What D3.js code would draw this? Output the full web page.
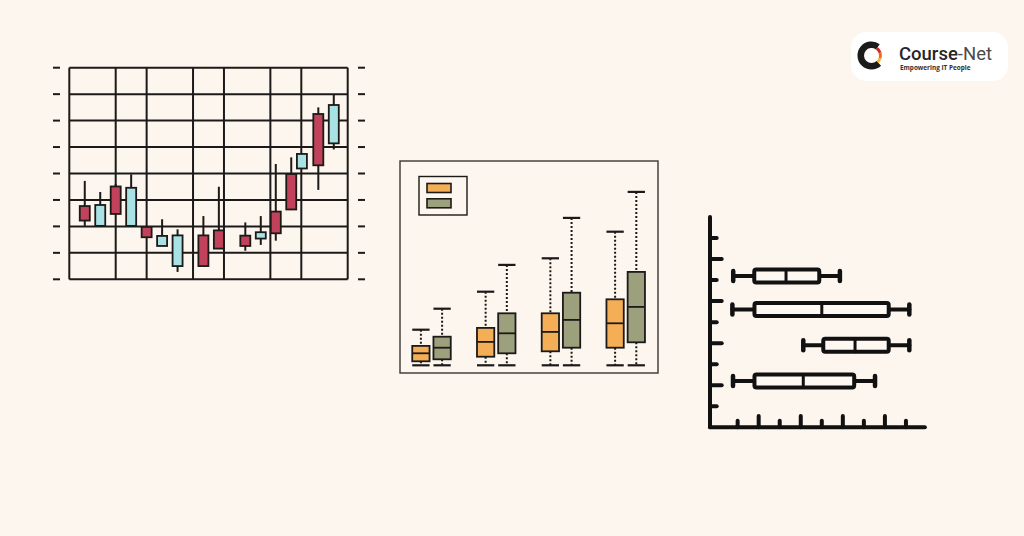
<!DOCTYPE html>
<html lang="en">
<head>
<meta charset="utf-8">
<script src="https://cdn.jsdelivr.net/npm/d3@7"></script>
<style>
  body { margin: 0; background: #fcf6ee; }
  svg { display: block; }
</style>
</head>
<body>
<div id="vis"></div>
<script>
// ---- candlestick data (price units 0..8) ----
var candleDays  = [0, 1, 2, 3, 4, 5, 6, 7.67, 8.67, 10.38, 11.38, 12.35, 13.35, 14.04, 15.1, 16.1];
var candleOpen  = [2.77, 2.02, 3.51, 2.02, 1.98, 1.26, 0.50, 1.66, 1.85, 1.65, 1.54, 2.56, 3.98, 4.19, 6.25, 5.14];
var candleClose = [2.22, 2.81, 2.47, 3.46, 1.59, 1.64, 1.66, 0.50, 1.16, 1.26, 1.78, 1.74, 2.64, 4.74, 4.31, 6.59];
var candleHigh  = [3.72, 3.30, 3.60, 3.97, 1.98, 2.27, 1.89, 2.39, 3.50, 2.15, 2.39, 4.36, 4.61, 4.74, 6.50, 6.99];
var candleLow   = [2.02, 2.02, 2.47, 2.02, 1.59, 1.26, 0.28, 0.50, 1.16, 1.08, 1.30, 1.46, 2.64, 4.19, 3.38, 4.91];
var gridDays    = [-1, 2, 4, 7, 9, 12, 14, 17];
var gridPrices  = [0, 1, 2, 3, 4, 5, 6, 7, 8];

// ---- grouped box plot data ----
var boxGroups = ["G1", "G2", "G3", "G4"];
var boxSeries = ["orange", "green"];
var orangeMin = [0, 0, 0, 0];
var orangeQ1  = [2, 4.3, 7, 8.8];
var orangeMed = [6, 11.7, 16.7, 21];
var orangeQ3  = [9.7, 18.7, 26, 33];
var orangeMax = [17.8, 36.8, 53.5, 66.8];
var greenMin  = [0, 0, 0, 0];
var greenQ1   = [3, 6, 8.8, 11.5];
var greenMed  = [8.8, 16, 22.7, 29.2];
var greenQ3   = [14.3, 26, 36.3, 46.7];
var greenMax  = [28.3, 50.2, 73.7, 86.7];

// ---- horizontal box plot data ----
var hRows = [7.2, 5.6, 3.9, 2.2];
var hMin  = [0.79, 0.75, 4.12, 0.78];
var hQ1   = [1.79, 1.8, 5.07, 1.8];
var hMed  = [3.3, 5.0, 6.58, 4.12];
var hQ3   = [4.88, 8.18, 8.18, 6.54];
var hMax  = [5.86, 9.16, 9.16, 7.53];
var hTicks = [1, 2, 3, 4, 5, 6, 7, 8, 9];

var ink = "#1c1a18";
var svg = d3.select("#vis").append("svg")
    .attr("width", 1024)
    .attr("height", 536);

svg.append("rect").attr("width", 1024).attr("height", 536).attr("fill", "#fcf6ee");

// =============== candlestick ===============
var cx = d3.scaleLinear().domain([-1, 17]).range([69.3, 347.7]);
var cy = d3.scaleLinear().domain([0, 8]).range([279.3, 67.7]);
var g1 = svg.append("g");

g1.selectAll(".hgrid").data(gridPrices).enter().append("line")
  .attr("x1", cx(-1)).attr("x2", cx(17))
  .attr("y1", d => cy(d)).attr("y2", d => cy(d))
  .attr("stroke", ink).attr("stroke-width", 2);
g1.selectAll(".vgrid").data(gridDays).enter().append("line")
  .attr("x1", d => cx(d)).attr("x2", d => cx(d))
  .attr("y1", cy(0)).attr("y2", cy(8))
  .attr("stroke", ink).attr("stroke-width", 2);
// outside tick dashes
g1.selectAll(".ltick").data(gridPrices).enter().append("line")
  .attr("x1", 53).attr("x2", 60)
  .attr("y1", d => cy(d)).attr("y2", d => cy(d))
  .attr("stroke", ink).attr("stroke-width", 2);
g1.selectAll(".rtick").data(gridPrices).enter().append("line")
  .attr("x1", 358).attr("x2", 365)
  .attr("y1", d => cy(d)).attr("y2", d => cy(d))
  .attr("stroke", ink).attr("stroke-width", 2);

var candles = candleDays.map(function(d, i) {
  return {day: d, open: candleOpen[i], close: candleClose[i], high: candleHigh[i], low: candleLow[i]};
});
var cg = g1.selectAll(".candle").data(candles).enter().append("g");
cg.append("line")
  .attr("x1", d => cx(d.day)).attr("x2", d => cx(d.day))
  .attr("y1", d => cy(d.high)).attr("y2", d => cy(d.low))
  .attr("stroke", ink).attr("stroke-width", 2);
cg.append("rect")
  .attr("x", d => cx(d.day) - 5)
  .attr("width", 10)
  .attr("y", d => cy(Math.max(d.open, d.close)))
  .attr("height", d => Math.abs(cy(d.open) - cy(d.close)))
  .attr("fill", d => d.close < d.open ? "#c2425b" : "#a8e2e5")
  .attr("stroke", ink).attr("stroke-width", 1.8);

// =============== grouped box plot ===============
var g2 = svg.append("g");
g2.append("rect").attr("x", 400).attr("y", 161).attr("width", 258).attr("height", 212)
  .attr("fill", "none").attr("stroke", "#3a3633").attr("stroke-width", 1.4);

var bx = d3.scalePoint().domain(boxGroups).range([431.5, 625.7]);
var bsub = d3.scalePoint().domain(boxSeries).range([-10.6, 10.6]);
var by = d3.scaleLinear().domain([0, 100]).range([365.3, 165.3]);
var boxColor = {orange: "#f4ae56", green: "#9da07c"};
var boxW = 17.3;

var boxes = [];
boxGroups.forEach(function(gname, i) {
  boxes.push({group: gname, s: "orange", min: orangeMin[i], q1: orangeQ1[i], med: orangeMed[i], q3: orangeQ3[i], max: orangeMax[i]});
  boxes.push({group: gname, s: "green", min: greenMin[i], q1: greenQ1[i], med: greenMed[i], q3: greenQ3[i], max: greenMax[i]});
});
var bg = g2.selectAll(".box").data(boxes).enter().append("g")
  .attr("transform", d => `translate(${bx(d.group) + bsub(d.s)},0)`);
bg.append("line").attr("x1", 0).attr("x2", 0)
  .attr("y1", d => by(d.max)).attr("y2", d => by(d.q3))
  .attr("stroke", ink).attr("stroke-width", 2).attr("stroke-dasharray", "2,2");
bg.append("line").attr("x1", 0).attr("x2", 0)
  .attr("y1", d => by(d.q1)).attr("y2", d => by(d.min))
  .attr("stroke", ink).attr("stroke-width", 2).attr("stroke-dasharray", "2,2");
bg.append("line").attr("x1", -boxW / 2).attr("x2", boxW / 2)
  .attr("y1", d => by(d.max)).attr("y2", d => by(d.max))
  .attr("stroke", ink).attr("stroke-width", 2.2);
bg.append("line").attr("x1", -boxW / 2).attr("x2", boxW / 2)
  .attr("y1", d => by(d.min)).attr("y2", d => by(d.min))
  .attr("stroke", ink).attr("stroke-width", 2.2);
bg.append("rect").attr("x", -boxW / 2).attr("width", boxW)
  .attr("y", d => by(d.q3)).attr("height", d => by(d.q1) - by(d.q3))
  .attr("fill", d => boxColor[d.s]).attr("stroke", ink).attr("stroke-width", 1.8);
bg.append("line").attr("x1", -boxW / 2).attr("x2", boxW / 2)
  .attr("y1", d => by(d.med)).attr("y2", d => by(d.med))
  .attr("stroke", ink).attr("stroke-width", 1.8);

// legend
g2.append("rect").attr("x", 419).attr("y", 176.5).attr("width", 48).attr("height", 38.5)
  .attr("fill", "none").attr("stroke", ink).attr("stroke-width", 1.4);
g2.selectAll(".leg").data(boxSeries).enter().append("rect")
  .attr("x", 427).attr("y", (d, i) => 183.5 + i * 15.3)
  .attr("width", 24).attr("height", 9)
  .attr("fill", d => boxColor[d]).attr("stroke", ink).attr("stroke-width", 1.6);

// =============== horizontal box plot ===============
var hx = d3.scaleLinear().domain([0, 10]).range([716.6, 927]);
var hy = d3.scaleLinear().domain([0, 10]).range([427.3, 217]);
var g3 = svg.append("g").attr("stroke", "#111").attr("stroke-linecap", "round");

g3.append("line").attr("x1", 710).attr("x2", 710).attr("y1", hy(10)).attr("y2", hy(0))
  .attr("stroke-width", 4);
g3.append("line").attr("x1", 710).attr("x2", hx(9.9)).attr("y1", hy(0)).attr("y2", hy(0))
  .attr("stroke-width", 4);
g3.selectAll(".xt").data(hTicks).enter().append("line")
  .attr("x1", d => hx(d)).attr("x2", d => hx(d))
  .attr("y1", hy(0)).attr("y2", d => d % 2 === 0 ? 416 : 420.7)
  .attr("stroke-width", 4);
g3.selectAll(".yt").data(hTicks).enter().append("line")
  .attr("x1", 710).attr("x2", d => d % 2 === 0 ? 721.7 : 716.7)
  .attr("y1", d => hy(d)).attr("y2", d => hy(d))
  .attr("stroke-width", 4);

var hboxes = hRows.map(function(r, i) {
  return {row: r, min: hMin[i], q1: hQ1[i], med: hMed[i], q3: hQ3[i], max: hMax[i]};
});
var hb = g3.selectAll(".hbox").data(hboxes).enter().append("g")
  .attr("transform", d => `translate(0,${hy(d.row)})`);
hb.append("line").attr("x1", d => hx(d.min)).attr("x2", d => hx(d.q1))
  .attr("y1", 0).attr("y2", 0).attr("stroke-width", 4);
hb.append("line").attr("x1", d => hx(d.q3)).attr("x2", d => hx(d.max))
  .attr("y1", 0).attr("y2", 0).attr("stroke-width", 4);
hb.append("line").attr("x1", d => hx(d.min)).attr("x2", d => hx(d.min))
  .attr("y1", -5).attr("y2", 5).attr("stroke-width", 4.5);
hb.append("line").attr("x1", d => hx(d.max)).attr("x2", d => hx(d.max))
  .attr("y1", -5).attr("y2", 5).attr("stroke-width", 4.5);
hb.append("rect").attr("x", d => hx(d.q1)).attr("width", d => hx(d.q3) - hx(d.q1))
  .attr("y", -6.5).attr("height", 13).attr("rx", 2)
  .attr("fill", "#fdf8f2").attr("stroke-width", 4);
hb.append("line").attr("x1", d => hx(d.med)).attr("x2", d => hx(d.med))
  .attr("y1", -6.5).attr("y2", 6.5).attr("stroke-width", 3);

// =============== logo ===============
var lg = svg.append("g");
lg.append("rect").attr("x", 851).attr("y", 32).attr("width", 157).attr("height", 49)
  .attr("rx", 15).attr("fill", "#ffffff");
var ring = d3.arc().innerRadius(7.5).outerRadius(14);
var tau = Math.PI * 2;
lg.append("path").attr("transform", "translate(871.5,55.5)")
  .attr("d", ring({startAngle: tau * 0.38, endAngle: tau * 1.1}))
  .attr("fill", "#1b1b1b");
var inner = d3.arc().innerRadius(7.5).outerRadius(10.5);
var flame = [["#d8262a", 0.1, 0.2], ["#ee6a22", 0.2, 0.3], ["#f5b62b", 0.3, 0.38]];
lg.selectAll(".flame").data(flame).enter().append("path")
  .attr("transform", "translate(871.5,55.5)")
  .attr("d", d => inner({startAngle: tau * d[1], endAngle: tau * d[2]}))
  .attr("fill", d => d[0]);
var ttl = lg.append("text").attr("x", 899).attr("y", 59.5)
  .attr("font-family", "Roboto, 'Open Sans', sans-serif").attr("font-size", 18.5).attr("font-weight", 500);
ttl.append("tspan").attr("fill", "#262626").text("Course");
ttl.append("tspan").attr("fill", "#4a4a4a").attr("font-weight", 400).text("-Net");
lg.append("text").attr("x", 900).attr("y", 69.5)
  .attr("font-family", "'Open Sans', sans-serif").attr("font-size", 6.4).attr("font-weight", 700)
  .attr("fill", "#3a2b2b").text("Empowering IT People");
</script>
</body>
</html>
